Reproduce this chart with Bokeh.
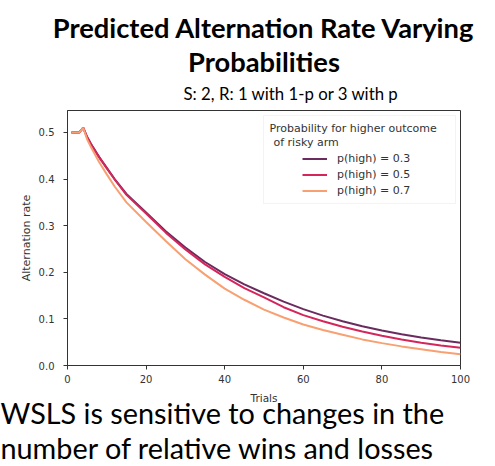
from bokeh.plotting import figure
from bokeh.models import (Title, Legend, LegendItem, Label, BoxAnnotation,
                          FixedTicker, PrintfTickFormatter)
from bokeh.embed import file_html
from bokeh.resources import INLINE

# ---------------- data ----------------
trials = [1, 2, 3, 4, 5, 6, 8, 10, 12, 15, 20, 25, 30, 35, 40, 45, 50,
          55, 60, 65, 70, 75, 80, 85, 90, 95, 100]
rate_p03 = [0.50, 0.50, 0.50, 0.51, 0.49, 0.475, 0.448, 0.424, 0.400, 0.368,
            0.328, 0.288, 0.253, 0.222, 0.196, 0.174, 0.155, 0.137, 0.121,
            0.107, 0.095, 0.084, 0.075, 0.067, 0.060, 0.054, 0.049]
rate_p05 = [0.50, 0.50, 0.50, 0.51, 0.49, 0.474, 0.447, 0.423, 0.399, 0.366,
            0.326, 0.285, 0.249, 0.217, 0.190, 0.166, 0.146, 0.125, 0.108,
            0.095, 0.083, 0.073, 0.064, 0.056, 0.049, 0.043, 0.038]
rate_p07 = [0.50, 0.50, 0.50, 0.51, 0.485, 0.468, 0.437, 0.410, 0.384, 0.350,
            0.308, 0.267, 0.228, 0.195, 0.165, 0.141, 0.120, 0.103, 0.088,
            0.076, 0.066, 0.056, 0.048, 0.041, 0.035, 0.029, 0.024]
series_labels = ["p(high) = 0.3", "p(high) = 0.5", "p(high) = 0.7"]
series_colors = ["#6a2c5f", "#d5265b", "#f8a072"]
x_ticks = [0, 20, 40, 60, 80, 100]
y_ticks = [0.0, 0.1, 0.2, 0.3, 0.4, 0.5]

title_line1 = "Predicted Alternation Rate Varying"
title_line2 = "Probabilities"
subtitle = "S: 2, R: 1 with 1-p or 3 with p"
legend_title1 = "Probability for higher outcome"
legend_title2 = "of risky  arm"
caption1 = "WSLS is sensitive to changes in the"
caption2 = "number of relative wins and losses"

AX_FONT = "DejaVu Sans"
SLIDE_FONT = "Lato"

p = figure(width=495, height=466, x_range=(0, 100), y_range=(0, 0.547),
           output_backend="svg", toolbar_location=None,
           min_border_left=67, min_border_right=35,
           min_border_top=110, min_border_bottom=101)
p.background_fill_color = "white"
p.border_fill_color = "white"
p.outline_line_color = "#333333"
p.outline_line_width = 1
p.xgrid.visible = False
p.ygrid.visible = False

# ---------------- lines ----------------
renderers = []
for ys, col in zip([rate_p03, rate_p05, rate_p07], series_colors):
    r = p.line(trials, ys, line_color=col, line_width=2)
    renderers.append(r)

# ---------------- axes ----------------
for ax in (p.xaxis[0], p.yaxis[0]):
    ax.axis_line_color = "#333333"
    ax.major_tick_line_color = "#333333"
    ax.major_tick_in = 0
    ax.major_tick_out = 4
    ax.minor_tick_line_color = None
    ax.major_label_text_font = AX_FONT
    ax.major_label_text_font_size = "10px"
    ax.major_label_text_color = "#333333"
    ax.axis_label_text_font = AX_FONT
    ax.axis_label_text_font_style = "normal"
    ax.axis_label_text_color = "#333333"

p.xaxis.axis_label_text_font_size = "10.5px"
p.yaxis.axis_label_text_font_size = "11px"
p.xaxis.ticker = FixedTicker(ticks=x_ticks)
p.yaxis.ticker = FixedTicker(ticks=y_ticks)
p.yaxis.formatter = PrintfTickFormatter(format="%.1f")
p.xaxis.axis_label = "Trials"
p.yaxis.axis_label = "Alternation rate"
p.xaxis.major_label_standoff = 5
p.yaxis.major_label_standoff = 9
p.xaxis.axis_label_standoff = 6
p.yaxis.axis_label_standoff = 3

# ---------------- legend (manual box + title + items) ----------------
p.add_layout(BoxAnnotation(left=196, right=388, top=250, bottom=162,
                           left_units="screen", right_units="screen",
                           top_units="screen", bottom_units="screen",
                           fill_color="white", fill_alpha=0.85,
                           line_color="#d6d6d6", line_width=1))
p.add_layout(Label(x=202, y=237, x_units="screen", y_units="screen",
                   text=legend_title1, text_font=AX_FONT,
                   text_font_size="11px", text_color="#333333",
                   text_baseline="alphabetic"))
p.add_layout(Label(x=206, y=223, x_units="screen", y_units="screen",
                   text=legend_title2, text_font=AX_FONT,
                   text_font_size="11px", text_color="#333333",
                   text_baseline="alphabetic"))
legend = Legend(items=[LegendItem(label=l, renderers=[r])
                       for l, r in zip(series_labels, renderers)],
                location=(235, 168), padding=0, margin=0, spacing=3,
                glyph_width=25, glyph_height=13, label_height=13,
                label_standoff=10, label_text_font=AX_FONT,
                label_text_font_size="11px", label_text_color="#333333",
                border_line_alpha=0, background_fill_alpha=0)
p.add_layout(legend, "center")

# ---------------- slide texts ----------------
p.add_layout(Title(text=subtitle, align="left", offset=116,
                   text_font=SLIDE_FONT, text_font_size="16.8px",
                   text_font_style="normal", text_color="black",
                   standoff=13), "above")
p.add_layout(Title(text=title_line2, align="center",
                   text_font=SLIDE_FONT, text_font_size="27.3px",
                   text_font_style="bold", text_color="black",
                   standoff=-6), "above")
p.add_layout(Title(text=title_line1, align="center",
                   text_font=SLIDE_FONT, text_font_size="27.3px",
                   text_font_style="bold", text_color="black",
                   standoff=4), "above")

p.add_layout(Title(text=caption1 + "\n" + caption2, align="left", offset=-67,
                   text_font=SLIDE_FONT, text_font_size="28.8px",
                   text_font_style="normal", text_color="black",
                   text_line_height=1.03, standoff=-25), "below")

open("out.html", "w").write(file_html(p, INLINE))
